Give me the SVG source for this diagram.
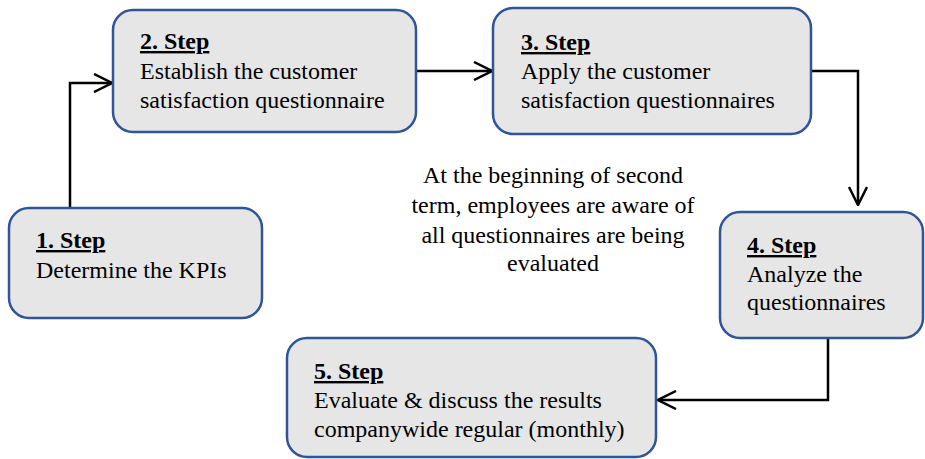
<svg xmlns="http://www.w3.org/2000/svg" width="925" height="459" viewBox="0 0 925 459">
<defs>
<style>
.box{fill:#E6E6E6;stroke:#2F5597;stroke-width:2.5}
.t{font-family:"Liberation Serif","Times New Roman",Tinos,"DejaVu Serif",serif;font-size:24px;fill:#000}
.h{font-weight:bold;text-decoration:underline}
.c{text-anchor:middle}
.ln{fill:none;stroke:#000;stroke-width:2.5}
</style>
<marker id="arr" viewBox="0 0 20 20" refX="19" refY="10" markerWidth="20" markerHeight="20" markerUnits="userSpaceOnUse" orient="auto">
<path d="M1,1 L19,10 L1,19" fill="none" stroke="#000" stroke-width="2.5"/>
</marker>
</defs>
<g id="connectors">
<path class="ln" d="M70,208 V83 H112" marker-end="url(#arr)"/>
<path class="ln" d="M416,71 H492" marker-end="url(#arr)"/>
<path class="ln" d="M812,71 H858 V205" marker-end="url(#arr)"/>
<path class="ln" d="M828,338 V400 H658" marker-end="url(#arr)"/>
</g>
<g id="step1">
<rect class="box" x="9" y="208" width="253" height="110" rx="20"/>
<text class="t h" x="36" y="248">1. Step</text>
<text class="t" x="36" y="278">Determine the KPIs</text>
</g>
<g id="step2">
<rect class="box" x="113" y="10" width="303" height="122" rx="20"/>
<text class="t h" x="140" y="49">2. Step</text>
<text class="t" x="140" y="79">Establish the customer</text>
<text class="t" x="140" y="108">satisfaction questionnaire</text>
</g>
<g id="step3">
<rect class="box" x="493" y="8" width="318" height="126" rx="20"/>
<text class="t h" x="521" y="50">3. Step</text>
<text class="t" x="521" y="79">Apply the customer</text>
<text class="t" x="521" y="108">satisfaction questionnaires</text>
</g>
<g id="step4">
<rect class="box" x="720" y="212" width="203" height="126" rx="20"/>
<text class="t h" x="747" y="253">4. Step</text>
<text class="t" x="747" y="282">Analyze the</text>
<text class="t" x="747" y="310">questionnaires</text>
</g>
<g id="step5">
<rect class="box" x="287" y="338" width="369" height="119" rx="20"/>
<text class="t h" x="314" y="379">5. Step</text>
<text class="t" x="314" y="408">Evaluate &amp; discuss the results</text>
<text class="t" x="314" y="437">companywide regular (monthly)</text>
</g>
<g id="note">
<text class="t c" x="553" y="183">At the beginning of second</text>
<text class="t c" x="553" y="213">term, employees are aware of</text>
<text class="t c" x="553" y="243">all questionnaires are being</text>
<text class="t c" x="553" y="271">evaluated</text>
</g>
</svg>
